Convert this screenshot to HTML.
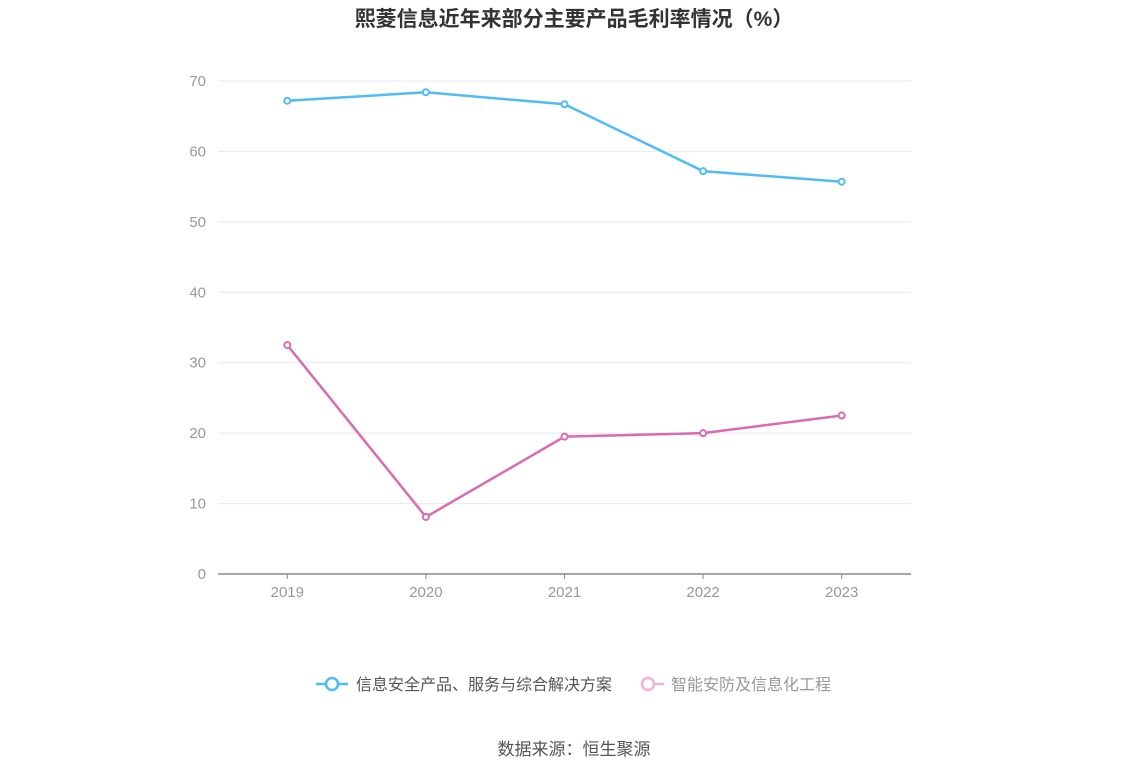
<!DOCTYPE html>
<html><head><meta charset="utf-8"><style>
body{margin:0;background:#fff;}
svg text{font-family:"Liberation Sans","Noto Sans CJK SC",sans-serif;}
</style></head><body>
<svg id="chart" width="1148" height="776">
<text x="574" y="26" text-anchor="middle" font-size="21" font-weight="bold" fill="#333">熙菱信息近年来部分主要产品毛利率情况（%）</text>
<g id="grid"></g><g id="series"></g>
<g>
<g>
<line x1="316" y1="684" x2="348" y2="684" stroke="#4fbdf5" stroke-width="2.5"/>
<circle cx="332" cy="684" r="6" fill="#fff" stroke="#4fbdf5" stroke-width="2.5"/>
<text x="356" y="690" font-size="16" fill="#555">信息安全产品、服务与综合解决方案</text></g>
<g>
<line x1="642" y1="684" x2="664" y2="684" stroke="#f0b3d8" stroke-width="2.5"/>
<circle cx="648" cy="684" r="6" fill="#fff" stroke="#f0b3d8" stroke-width="2.5"/>
<text x="671" y="690" font-size="16" fill="#999">智能安防及信息化工程</text></g>
</g>
<text x="574" y="755" text-anchor="middle" font-size="17" fill="#555">数据来源：恒生聚源</text>
</svg>
<script>
const categories=["2019","2020","2021","2022","2023"];
const securityValues=[67.2,68.4,66.7,57.2,55.7];
const smartValues=[32.5,8.1,19.5,20.0,22.5];
const yTicks=[0,10,20,30,40,50,60,70];
const NS="http://www.w3.org/2000/svg";
const x0=218,x1=911,yBase=574,yTop=81,yMax=70;
const band=(x1-x0)/categories.length;
const xs=i=>x0+band*(i+0.5);
const ys=v=>yBase-(v/yMax)*(yBase-yTop);
const grid=document.getElementById('grid'),ser=document.getElementById('series');
function mk(t,a,p){const e=document.createElementNS(NS,t);for(const k in a)e.setAttribute(k,a[k]);p.appendChild(e);return e;}
yTicks.forEach(v=>{
 if(v>0){const l=mk('line',{x1:x0,x2:x1,y1:ys(v),y2:ys(v),stroke:'#e6e8f2','stroke-width':1},grid);
 
 }
 const t=mk('text',{x:206,y:ys(v)+5,'text-anchor':'end','font-size':15,fill:'#999'},grid);t.textContent=v;
 
 
});
const ax=mk('line',{x1:x0,x2:x1,y1:yBase,y2:yBase,stroke:'#888','stroke-width':1.5},grid);


categories.forEach((c,i)=>{
 mk('line',{x1:xs(i),x2:xs(i),y1:yBase,y2:yBase+5,stroke:'#888'},grid);
 const t=mk('text',{x:xs(i),y:597,'text-anchor':'middle','font-size':15,fill:'#999'},grid);t.textContent=c;
 
 
});
function line(vals,color,name){
 const p=mk('polyline',{points:vals.map((v,i)=>xs(i)+','+ys(v)).join(' '),fill:'none',stroke:color,'stroke-width':2.5},ser);
 
 
 vals.forEach((v,i)=>{const c=mk('circle',{cx:xs(i),cy:ys(v),r:3,fill:'#fff',stroke:color,'stroke-width':2},ser);
 
 });
}
line(securityValues,'#4fbdf5','security');
line(smartValues,'#d96bb0','smart-security');
</script>
</body></html>
